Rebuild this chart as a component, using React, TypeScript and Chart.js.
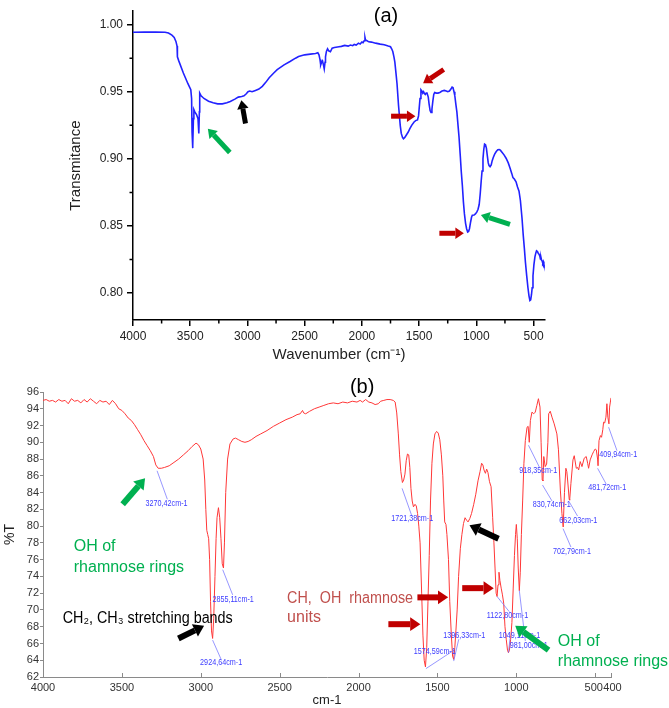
import React, { useEffect, useRef } from 'react';
import { Chart, registerables } from 'chart.js';

Chart.register(...registerables);

const FONT = "'Liberation Sans', Arial, Helvetica, sans-serif";
const NARROW = "'Liberation Sans Narrow', 'Liberation Sans', Arial, sans-serif";
Chart.defaults.font.family = FONT;

// ---------- Chart (a) data: [wavenumber cm-1, transmittance] ----------
const A_SPECTRUM_POINTS: [number, number][] = [
  [4000, 0.9943], [3900, 0.9944], [3800, 0.9945], [3720, 0.9943], [3690, 0.9938], [3660, 0.9922],
  [3640, 0.9905], [3625, 0.9875], [3615, 0.984], [3612, 0.976], [3600, 0.973], [3560, 0.964],
  [3520, 0.956], [3495, 0.9515], [3488, 0.945], [3484, 0.92], [3480, 0.908], [3476, 0.91],
  [3472, 0.93], [3468, 0.9366], [3460, 0.935], [3445, 0.933], [3432, 0.93], [3425, 0.919],
  [3420, 0.935], [3417, 0.949], [3405, 0.947], [3380, 0.945], [3340, 0.943], [3300, 0.9418],
  [3260, 0.941], [3220, 0.941], [3180, 0.9418], [3150, 0.9428], [3110, 0.9445], [3080, 0.946],
  [3050, 0.9465], [3030, 0.947], [3010, 0.9485], [2995, 0.95], [2980, 0.9505], [2960, 0.95],
  [2930, 0.951], [2900, 0.952], [2870, 0.954], [2840, 0.957], [2810, 0.9605], [2770, 0.964],
  [2740, 0.9665], [2680, 0.97], [2628, 0.9725], [2580, 0.975], [2553, 0.9762], [2500, 0.9775],
  [2450, 0.978], [2405, 0.9785], [2385, 0.979], [2375, 0.9775], [2366, 0.974], [2360, 0.97],
  [2352, 0.972], [2344, 0.973], [2336, 0.97], [2329, 0.967], [2322, 0.972], [2318, 0.976],
  [2310, 0.98], [2300, 0.982], [2290, 0.9805], [2275, 0.9798], [2260, 0.9825], [2240, 0.983],
  [2200, 0.9835], [2179, 0.9838], [2150, 0.9845], [2120, 0.984], [2100, 0.9848], [2080, 0.9843],
  [2067, 0.9852], [2050, 0.9848], [2030, 0.9862], [2015, 0.9855], [2000, 0.987], [1990, 0.9865],
  [1980, 0.988], [1973, 0.9905], [1968, 0.9885], [1955, 0.988], [1940, 0.9872], [1917, 0.987],
  [1880, 0.9862], [1840, 0.9855], [1805, 0.985], [1770, 0.984], [1750, 0.9835], [1740, 0.982],
  [1730, 0.98], [1720, 0.976], [1712, 0.972], [1700, 0.962], [1693, 0.956], [1680, 0.94],
  [1674, 0.934], [1665, 0.925], [1656, 0.919], [1645, 0.916], [1637, 0.915], [1625, 0.916],
  [1610, 0.918], [1595, 0.92], [1581, 0.9225], [1565, 0.925], [1544, 0.9275], [1530, 0.9285],
  [1514, 0.929], [1505, 0.932], [1499, 0.938], [1492, 0.945], [1484, 0.9515], [1475, 0.9505],
  [1468, 0.949], [1461, 0.95], [1452, 0.9485], [1446, 0.948], [1438, 0.949], [1431, 0.949],
  [1420, 0.946], [1413, 0.941], [1404, 0.936], [1396, 0.9345], [1388, 0.937], [1380, 0.943],
  [1372, 0.948], [1364, 0.9495], [1350, 0.949], [1335, 0.949], [1319, 0.9495], [1300, 0.9505],
  [1280, 0.951], [1263, 0.9505], [1250, 0.95], [1235, 0.9505], [1222, 0.952], [1212, 0.9535],
  [1204, 0.953], [1195, 0.95], [1188, 0.947], [1178, 0.94], [1170, 0.935], [1160, 0.925],
  [1151, 0.916], [1140, 0.902], [1132, 0.891], [1122, 0.88], [1113, 0.868], [1104, 0.859],
  [1094, 0.852], [1085, 0.848], [1076, 0.8455], [1068, 0.846], [1060, 0.848], [1050, 0.853],
  [1042, 0.8565], [1035, 0.858], [1020, 0.8582], [1008, 0.859], [995, 0.8605], [985, 0.8625],
  [975, 0.866], [966, 0.874], [958, 0.883], [950, 0.891], [942, 0.9], [935, 0.907],
  [928, 0.911], [920, 0.9105], [912, 0.908], [905, 0.903], [896, 0.897], [889, 0.895],
  [880, 0.8942], [870, 0.8955], [862, 0.8985], [852, 0.901], [840, 0.9035], [826, 0.9055],
  [812, 0.9068], [800, 0.907], [790, 0.9065], [776, 0.905], [758, 0.903], [740, 0.9005],
  [721, 0.897], [705, 0.893], [690, 0.889], [680, 0.886], [668, 0.885], [653, 0.883],
  [640, 0.879], [627, 0.876], [615, 0.869], [601, 0.856], [590, 0.843], [580, 0.833],
  [571, 0.823], [560, 0.813], [549, 0.804], [540, 0.798], [532, 0.7945], [525, 0.795],
  [518, 0.799], [512, 0.804], [505, 0.813], [497, 0.821], [488, 0.827], [480, 0.83],
  [474, 0.8315], [466, 0.831], [458, 0.8295], [452, 0.829], [445, 0.8275], [440, 0.8255],
  [435, 0.8265], [430, 0.8245], [425, 0.824], [420, 0.8225], [415, 0.8235], [410, 0.8215],
  [405, 0.8195], [400, 0.82],
];
const A_X_TICKS = [4000, 3500, 3000, 2500, 2000, 1500, 1000, 500];
const A_X_MINOR_TICKS = [3750, 3250, 2750, 2250, 1750, 1250, 750];
const A_Y_TICKS = [0.8, 0.85, 0.9, 0.95, 1.0];
const A_Y_MINOR_TICKS = [0.825, 0.875, 0.925, 0.975];

// ---------- Chart (b) data: [wavenumber cm-1, %T] ----------
const B_SPECTRUM_POINTS: [number, number][] = [
  [4000, 95.0], [3980, 95.1], [3960, 94.9], [3940, 95.0], [3920, 94.8], [3900, 95.1], [3880, 94.9],
  [3860, 95.0], [3840, 94.6], [3820, 95.2], [3800, 94.9], [3780, 95.0], [3760, 94.7], [3740, 95.1],
  [3720, 94.8], [3700, 95.2], [3680, 94.9], [3660, 94.6], [3640, 95.0], [3620, 94.8], [3600, 94.9],
  [3580, 94.5], [3560, 95.0], [3540, 94.6], [3520, 94.0], [3500, 93.8], [3480, 93.4], [3460, 92.9],
  [3440, 92.6], [3420, 92.1], [3400, 91.5], [3380, 90.9], [3360, 90.2], [3340, 89.6], [3320, 89.0],
  [3300, 88.3], [3285, 87.3], [3270, 86.9], [3250, 86.9], [3230, 87.0], [3200, 87.2], [3170, 87.6],
  [3140, 88.0], [3110, 88.5], [3080, 89.0], [3055, 89.5], [3030, 89.9], [3015, 89.7], [3000, 89.2],
  [2985, 88.0], [2975, 85.5], [2968, 82.0], [2962, 79.5], [2956, 79.0], [2950, 78.5], [2944, 76.0],
  [2938, 71.0], [2932, 67.5], [2925, 66.6], [2918, 69.0], [2910, 74.0], [2903, 78.5], [2897, 81.0],
  [2888, 82.2], [2880, 81.0], [2872, 78.5], [2864, 75.5], [2856, 75.0], [2850, 78.0], [2842, 84.0],
  [2830, 88.0], [2815, 89.8], [2795, 90.4], [2780, 90.5], [2760, 90.3], [2740, 90.1], [2720, 90.0],
  [2700, 90.1], [2680, 90.3], [2650, 90.7], [2620, 91.0], [2580, 91.4], [2540, 91.9], [2500, 92.3],
  [2460, 92.7], [2420, 93.0], [2390, 93.3], [2370, 93.4], [2355, 93.8], [2348, 93.5], [2335, 93.4],
  [2310, 93.7], [2280, 94.0], [2250, 94.2], [2220, 94.4], [2190, 94.6], [2160, 94.7], [2130, 94.6],
  [2100, 94.8], [2070, 94.7], [2040, 94.9], [2010, 94.8], [1990, 95.0], [1975, 94.8], [1955, 95.1],
  [1935, 94.8], [1915, 94.7], [1895, 94.5], [1875, 94.6], [1860, 94.9], [1840, 95.0], [1820, 95.1],
  [1800, 95.1], [1780, 95.0], [1768, 94.8], [1758, 93.5], [1748, 91.0], [1740, 88.5], [1732, 86.5],
  [1722, 85.2], [1714, 85.5], [1706, 86.2], [1698, 87.8], [1690, 88.6], [1682, 88.5], [1675, 87.0],
  [1668, 84.5], [1660, 83.0], [1652, 82.3], [1642, 82.6], [1634, 82.4], [1626, 81.5], [1618, 80.0],
  [1610, 78.0], [1600, 72.0], [1592, 67.0], [1584, 64.0], [1576, 63.2], [1568, 65.5], [1560, 71.0],
  [1552, 76.5], [1544, 83.0], [1535, 87.5], [1526, 89.8], [1516, 91.0], [1505, 91.3], [1495, 91.1],
  [1485, 90.3], [1475, 88.5], [1466, 86.0], [1460, 83.0], [1454, 80.5], [1446, 80.2], [1440, 79.0],
  [1430, 76.0], [1422, 71.0], [1412, 67.0], [1404, 64.5], [1397, 64.1], [1390, 65.5], [1383, 67.5],
  [1375, 70.0], [1366, 74.0], [1355, 77.3], [1345, 79.0], [1335, 80.3], [1325, 81.0], [1315, 80.7],
  [1306, 80.5], [1295, 80.9], [1284, 81.5], [1270, 82.6], [1257, 83.8], [1243, 85.4], [1230, 86.5],
  [1220, 87.5], [1212, 87.3], [1205, 86.7], [1196, 86.3], [1188, 86.8], [1180, 86.4], [1170, 85.3],
  [1160, 84.7], [1150, 81.0], [1142, 78.0], [1135, 75.0], [1128, 72.0], [1122, 71.6], [1116, 73.0],
  [1110, 74.5], [1104, 73.5], [1096, 72.6], [1088, 71.8], [1080, 70.8], [1072, 68.0], [1064, 66.5],
  [1056, 65.2], [1050, 64.9], [1044, 65.2], [1036, 66.5], [1028, 68.5], [1020, 72.5], [1012, 76.5],
  [1005, 79.0], [1000, 80.2], [994, 78.5], [988, 75.0], [981, 72.3], [975, 74.5], [968, 79.0],
  [960, 83.0], [952, 87.5], [943, 90.2], [932, 91.8], [925, 91.9], [918, 90.0], [911, 92.6],
  [901, 93.6], [890, 93.4], [880, 93.6], [870, 94.4], [860, 95.2], [850, 94.2], [843, 90.0],
  [836, 85.5], [831, 85.4], [826, 88.3], [817, 87.1], [808, 87.4], [800, 90.0], [795, 93.4],
  [785, 93.7], [774, 93.0], [760, 92.2], [743, 91.0], [733, 89.1], [721, 84.3], [711, 81.5],
  [703, 79.9], [695, 84.0], [686, 86.9], [680, 86.5], [675, 85.5], [665, 83.2], [662, 83.1],
  [654, 85.1], [641, 87.9], [633, 88.4], [620, 86.9], [612, 87.0], [605, 86.7], [595, 87.7],
  [584, 87.1], [570, 88.1], [557, 88.3], [548, 87.5], [542, 86.9], [532, 87.9], [520, 88.5],
  [510, 88.9], [500, 89.2], [493, 89.1], [485, 88.0], [482, 87.2], [476, 90.2], [467, 90.8],
  [460, 90.6], [452, 91.5], [447, 92.4], [440, 92.3], [432, 93.0], [426, 94.6], [420, 93.0],
  [413, 92.2], [409, 94.2], [404, 94.8], [400, 95.3],
];
const B_X_TICKS = [4000, 3500, 3000, 2500, 2000, 1500, 1000, 500, 400];
const B_Y_TICKS = [62, 64, 66, 68, 70, 72, 74, 76, 78, 80, 82, 84, 86, 88, 90, 92, 94, 96];

const RED = '#C00000';
const GREEN = '#00B050';
const BLACK = '#000000';

type Arrow = { from: [number, number]; to: [number, number]; color: string };
type Txt = { text: string; at: [number, number]; color: string; size: number; align: CanvasTextAlign; maxWidth?: number };
type PeakLabel = { text: string; peak: [number, number]; end: [number, number]; at: [number, number] };

// annotations in data coordinates (wavenumber, value)
const A_ARROWS: Arrow[] = [
  { from: [3154, 0.9048], to: [3346, 0.9224], color: GREEN },
  { from: [3017, 0.9264], to: [3053, 0.9436], color: BLACK },
  { from: [1285, 0.9666], to: [1465, 0.9563], color: RED },
  { from: [1745, 0.9318], to: [1532, 0.9318], color: RED },
  { from: [1323, 0.8446], to: [1109, 0.8446], color: RED },
  { from: [706, 0.8513], to: [960, 0.8582], color: GREEN },
];
const A_TEXTS: Txt[] = [
  { text: '(a)', at: [1789, 1.0064], color: '#000', size: 20, align: 'center' },
];

const B_ARROWS: Arrow[] = [
  { from: [3495, 82.6], to: [3353, 85.7], color: GREEN },
  { from: [3142, 66.6], to: [2979, 68.1], color: BLACK },
  { from: [1811, 68.3], to: [1608, 68.3], color: RED },
  { from: [1627, 71.5], to: [1432, 71.5], color: RED },
  { from: [1343, 72.6], to: [1143, 72.6], color: RED },
  { from: [1113, 78.5], to: [1297, 80.1], color: BLACK },
  { from: [796, 65.2], to: [1007, 68.1], color: GREEN },
];
const B_TEXTS: Txt[] = [
  { text: '(b)', at: [1977, 96.56], color: '#000', size: 20, align: 'center' },
  { text: 'OH of', at: [3805, 77.5], color: GREEN, size: 16, align: 'left' },
  { text: 'rhamnose rings', at: [3805, 75.1], color: GREEN, size: 16, align: 'left' },
  { text: 'CH\u2082, CH\u2083 stretching bands', at: [3875, 69.0], color: '#000', size: 16, align: 'left', maxWidth: 170 },
  { text: 'CH,  OH  rhamnose', at: [2453, 71.4], color: '#C0504D', size: 16, align: 'left', maxWidth: 126 },
  { text: 'units', at: [2453, 69.1], color: '#C0504D', size: 16, align: 'left' },
  { text: 'OH of', at: [737, 66.2], color: GREEN, size: 16, align: 'left' },
  { text: 'rhamnose rings', at: [737, 63.85], color: GREEN, size: 16, align: 'left' },
];
const B_PEAK_LABELS: PeakLabel[] = [
  { text: '3270,42cm-1', peak: [3277, 86.6], end: [3212, 83.2], at: [3217, 82.75] },
  { text: '2855,11cm-1', peak: [2861, 74.8], end: [2798, 71.8], at: [2795, 71.3] },
  { text: '2924,64cm-1', peak: [2925, 66.4], end: [2871, 64.1], at: [2871, 63.7] },
  { text: '1721,38cm-1', peak: [1724, 84.5], end: [1662, 81.2], at: [1660, 80.85] },
  { text: '1574,59cm-1', peak: [1573, 63.0], end: [1391, 65.25], at: [1517, 65.0] },
  { text: '1396,33cm-1', peak: [1397, 63.9], end: [1365, 66.5], at: [1330, 66.95] },
  { text: '1122,80cm-1', peak: [1122, 71.6], end: [1045, 69.8], at: [1056, 69.3] },
  { text: '1049,11cm-1', peak: [1050, 64.9], end: [1040, 66.6], at: [980, 67.0] },
  { text: '981,00cm-1', peak: [981, 72.3], end: [943, 66.3], at: [922, 65.7] },
  { text: '918,35cm-1', peak: [923, 89.65], end: [853, 87.0], at: [861, 86.6] },
  { text: '830,74cm-1', peak: [834, 84.9], end: [774, 83.0], at: [775, 82.6] },
  { text: '662,03cm-1', peak: [665, 82.9], end: [612, 81.2], at: [607, 80.7] },
  { text: '702,79cm-1', peak: [704, 79.7], end: [654, 77.5], at: [647, 77.0] },
  { text: '481,72cm-1', peak: [485, 86.9], end: [430, 85.0], at: [424, 84.6] },
  { text: '409,94cm-1', peak: [415, 91.8], end: [362, 89.0], at: [354, 88.5] },
];

function drawArrow(ctx: CanvasRenderingContext2D, x1: number, y1: number, x2: number, y2: number, color: string, w: number) {
  const ang = Math.atan2(y2 - y1, x2 - x1);
  const hl = w * 1.7;
  const hw = w * 1.15;
  const bx = x2 - hl * Math.cos(ang);
  const by = y2 - hl * Math.sin(ang);
  ctx.strokeStyle = color;
  ctx.fillStyle = color;
  ctx.lineWidth = w;
  ctx.lineCap = 'butt';
  ctx.beginPath();
  ctx.moveTo(x1, y1);
  ctx.lineTo(bx, by);
  ctx.stroke();
  ctx.beginPath();
  ctx.moveTo(x2, y2);
  ctx.lineTo(bx + hw * Math.sin(ang), by - hw * Math.cos(ang));
  ctx.lineTo(bx - hw * Math.sin(ang), by + hw * Math.cos(ang));
  ctx.closePath();
  ctx.fill();
}

type OverlaySpec = {
  arrows: Arrow[];
  arrowWidth: number;
  texts: Txt[];
  peaks?: PeakLabel[];
  minorX?: number[];
  minorY?: number[];
  minorColor?: string;
  inwardX?: number[];
};

function makeOverlay(id: string, spec: OverlaySpec) {
  return {
    id,
    afterDraw(chart: any) {
      const ctx: CanvasRenderingContext2D = chart.ctx;
      const xs = chart.scales.x;
      const ys = chart.scales.y;
      const area = chart.chartArea;
      const px = (w: number) => xs.getPixelForValue(w);
      const py = (v: number) => ys.getPixelForValue(v);
      ctx.save();
      if (spec.minorX || spec.minorY) {
        ctx.strokeStyle = spec.minorColor || '#000';
        ctx.lineWidth = 1.5;
        ctx.beginPath();
        (spec.minorX || []).forEach((w) => {
          const x = px(w);
          ctx.moveTo(x, area.bottom);
          ctx.lineTo(x, area.bottom + 3.5);
        });
        (spec.minorY || []).forEach((v) => {
          const y = py(v);
          ctx.moveTo(area.left, y);
          ctx.lineTo(area.left - 3.5, y);
        });
        ctx.stroke();
      }
      if (spec.inwardX) {
        ctx.strokeStyle = '#8a8a8a';
        ctx.lineWidth = 1;
        ctx.beginPath();
        spec.inwardX.forEach((w) => {
          const x = Math.round(px(w)) + 0.5;
          ctx.moveTo(x, area.bottom);
          ctx.lineTo(x, area.bottom - 4);
        });
        ctx.stroke();
      }
      (spec.peaks || []).forEach((p) => {
        ctx.strokeStyle = 'rgba(110,110,255,0.9)';
        ctx.lineWidth = 0.8;
        ctx.beginPath();
        ctx.moveTo(px(p.peak[0]), py(p.peak[1]));
        ctx.lineTo(px(p.end[0]), py(p.end[1]));
        ctx.stroke();
        ctx.save();
        ctx.translate(px(p.at[0]), py(p.at[1]));
        ctx.scale(0.8, 1);
        ctx.font = `9px ${FONT}`;
        ctx.fillStyle = 'rgb(60,60,255)';
        ctx.textAlign = 'center';
        ctx.textBaseline = 'middle';
        ctx.fillText(p.text, 0, 0);
        ctx.restore();
      });
      spec.arrows.forEach((a) => {
        drawArrow(ctx, px(a.from[0]), py(a.from[1]), px(a.to[0]), py(a.to[1]), a.color, spec.arrowWidth);
      });
      spec.texts.forEach((t) => {
        ctx.font = `${t.size}px ${FONT}`;
        ctx.fillStyle = t.color;
        ctx.textAlign = t.align;
        ctx.textBaseline = 'middle';
        if (t.maxWidth) ctx.fillText(t.text, px(t.at[0]), py(t.at[1]), t.maxWidth);
        else ctx.fillText(t.text, px(t.at[0]), py(t.at[1]));
      });
      ctx.restore();
    },
  };
}

function configA(): any {
  return {
    type: 'line',
    data: {
      datasets: [
        {
          data: A_SPECTRUM_POINTS.map(([w, t]) => ({ x: w, y: t })),
          borderColor: '#2222ff',
          borderWidth: 1.6,
          pointRadius: 0,
          tension: 0,
          fill: false,
        },
      ],
    },
    options: {
      animation: false,
      responsive: false,
      maintainAspectRatio: false,
      layout: { padding: { left: 0, right: 124, top: 7, bottom: 0 } },
      plugins: { legend: { display: false }, tooltip: { enabled: false }, title: { display: false } },
      scales: {
        x: {
          type: 'linear',
          reverse: true,
          min: 400,
          max: 4000,
          afterBuildTicks: (s: any) => {
            s.ticks = A_X_TICKS.map((v) => ({ value: v }));
          },
          afterFit: (s: any) => {
            s.height = 45;
          },
          ticks: { callback: (v: any) => String(v), autoSkip: false, maxRotation: 0, padding: 3, color: '#222', font: { size: 12, family: FONT } },
          grid: { display: true, drawOnChartArea: false, drawTicks: true, tickLength: 6, color: '#000', lineWidth: 1.5 },
          border: { display: true, color: '#000', width: 1.5 },
          title: { display: true, text: 'Wavenumber (cm\u207B\u00B9)', color: '#222', font: { size: 15, family: FONT }, padding: { top: 0, bottom: 1 } },
        },
        y: {
          type: 'linear',
          min: 0.78,
          max: 1.01,
          afterBuildTicks: (s: any) => {
            s.ticks = A_Y_TICKS.map((v) => ({ value: v }));
          },
          afterFit: (s: any) => {
            s.width = 133;
          },
          ticks: { callback: (v: any) => Number(v).toFixed(2), autoSkip: false, padding: 4, color: '#222', font: { size: 12, family: FONT } },
          grid: { display: true, drawOnChartArea: false, drawTicks: true, tickLength: 6, color: '#000', lineWidth: 1.5 },
          border: { display: true, color: '#000', width: 1.5 },
          title: { display: true, text: 'Transmitance', color: '#222', font: { size: 15, family: FONT }, padding: { top: 67, bottom: 0 } },
        },
      },
    },
    plugins: [
      makeOverlay('overlayA', {
        arrows: A_ARROWS,
        arrowWidth: 5,
        texts: A_TEXTS,
        minorX: A_X_MINOR_TICKS,
        minorY: A_Y_MINOR_TICKS,
        minorColor: '#000',
      }),
    ],
  };
}

// "500" and "400" sit side by side in the reference ("500400"); nudge them apart with a space
const bXLabel = (v: any) => {
  const n = Number(v);
  if (n === 500) return '500 ';
  if (n === 400) return ' 400';
  return String(n);
};

function configB(): any {
  return {
    type: 'line',
    data: {
      datasets: [
        {
          data: B_SPECTRUM_POINTS.map(([w, t]) => ({ x: w, y: t })),
          borderColor: 'rgb(255,55,55)',
          borderWidth: 1,
          pointRadius: 0,
          tension: 0,
          fill: false,
        },
      ],
    },
    options: {
      animation: false,
      responsive: false,
      maintainAspectRatio: false,
      layout: { padding: { left: 0, right: 58, top: 27, bottom: 0 } },
      plugins: { legend: { display: false }, tooltip: { enabled: false }, title: { display: false } },
      scales: {
        x: {
          type: 'linear',
          reverse: true,
          min: 400,
          max: 4000,
          afterBuildTicks: (s: any) => {
            s.ticks = B_X_TICKS.map((v) => ({ value: v }));
          },
          afterFit: (s: any) => {
            s.height = 31;
          },
          ticks: { callback: bXLabel, autoSkip: false, maxRotation: 0, padding: 4, color: '#333', font: { size: 11, family: NARROW } },
          grid: { display: false, drawTicks: false },
          border: { display: true, color: '#8a8a8a', width: 1 },
          title: { display: true, text: 'cm-1', color: '#222', font: { size: 13, family: FONT }, padding: { top: 0, bottom: 0 } },
        },
        y: {
          type: 'linear',
          min: 62,
          max: 96,
          afterBuildTicks: (s: any) => {
            s.ticks = B_Y_TICKS.map((v) => ({ value: v }));
          },
          afterFit: (s: any) => {
            s.width = 43;
          },
          ticks: { callback: (v: any) => String(v), autoSkip: false, padding: 1, color: '#333', font: { size: 11, family: NARROW } },
          grid: { display: true, drawOnChartArea: false, drawTicks: true, tickLength: 3, color: '#8a8a8a', lineWidth: 1 },
          border: { display: true, color: '#8a8a8a', width: 1 },
          title: { display: true, text: '%T', color: '#222', font: { size: 14, family: FONT }, padding: { top: 2, bottom: 0 } },
        },
      },
    },
    plugins: [
      makeOverlay('overlayB', {
        arrows: B_ARROWS,
        arrowWidth: 6,
        texts: B_TEXTS,
        peaks: B_PEAK_LABELS,
        inwardX: B_X_TICKS,
      }),
    ],
  };
}

export default function App() {
  const refA = useRef<HTMLCanvasElement>(null);
  const refB = useRef<HTMLCanvasElement>(null);
  useEffect(() => {
    const a = new Chart(refA.current as HTMLCanvasElement, configA());
    const b = new Chart(refB.current as HTMLCanvasElement, configB());
    return () => {
      a.destroy();
      b.destroy();
    };
  }, []);
  return (
    <div style={{ position: 'absolute', left: 0, top: 0, width: 669, height: 708, background: '#fff', overflow: 'hidden' }}>
      <canvas ref={refA} width={669} height={365} style={{ position: 'absolute', left: 0, top: 0, width: 669, height: 365 }} />
      <canvas ref={refB} width={669} height={343} style={{ position: 'absolute', left: 0, top: 365, width: 669, height: 343 }} />
    </div>
  );
}
